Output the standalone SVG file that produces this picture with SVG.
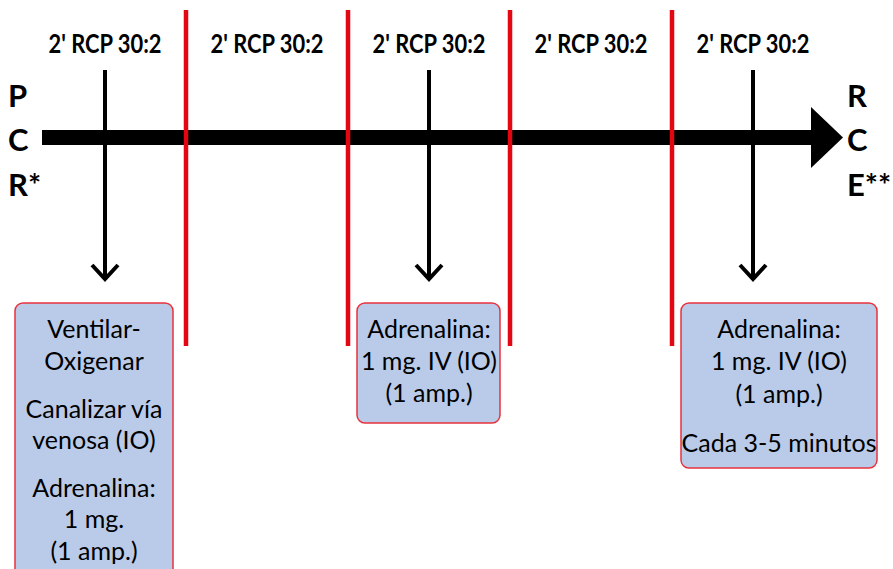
<svg xmlns="http://www.w3.org/2000/svg" width="893" height="569" viewBox="0 0 893 569">
<style>
.hdr{font-family:Lato,"Liberation Sans",sans-serif;font-weight:bold;font-size:27px;fill:#000;text-anchor:middle}
.big{font-family:Lato,"Liberation Sans",sans-serif;font-weight:bold;font-size:31px;fill:#000}
.box{fill:#BACBE9;stroke:#E8323C;stroke-width:1.5}
.bt{font-family:Lato,"Liberation Sans",sans-serif;font-size:25px;fill:#000;text-anchor:middle}
.red{stroke:#E30613;stroke-width:4.5}
.thin{stroke:#000;stroke-width:4;fill:none}
</style>
<rect width="893" height="569" fill="#fff"/>
<g id="timeline">
<rect x="42" y="130" width="772" height="15" fill="#000"/>
<polygon points="811,107 843,137.5 811,168" fill="#000"/>
</g>
<g id="connectors">
<line class="thin" x1="105" y1="70" x2="105" y2="279"/>
<polyline class="thin" points="92,265 105,279 118,265"/>
<line class="thin" x1="429" y1="70" x2="429" y2="279"/>
<polyline class="thin" points="416,265 429,279 442,265"/>
<line class="thin" x1="753" y1="70" x2="753" y2="279"/>
<polyline class="thin" points="740,265 753,279 766,265"/>
</g>
<g id="dividers">
<line class="red" x1="186" y1="10" x2="186" y2="346"/>
<line class="red" x1="348" y1="10" x2="348" y2="346"/>
<line class="red" x1="510" y1="10" x2="510" y2="346"/>
<line class="red" x1="672" y1="10" x2="672" y2="346"/>
</g>
<g id="headers">
<text class="hdr" x="105" y="53" textLength="113" lengthAdjust="spacingAndGlyphs">2' RCP 30:2</text>
<text class="hdr" x="267" y="53" textLength="113" lengthAdjust="spacingAndGlyphs">2' RCP 30:2</text>
<text class="hdr" x="429" y="53" textLength="113" lengthAdjust="spacingAndGlyphs">2' RCP 30:2</text>
<text class="hdr" x="591" y="53" textLength="113" lengthAdjust="spacingAndGlyphs">2' RCP 30:2</text>
<text class="hdr" x="753" y="53" textLength="113" lengthAdjust="spacingAndGlyphs">2' RCP 30:2</text>
</g>
<g id="pcr">
<text class="big" x="8" y="107">P</text>
<text class="big" x="8" y="151">C</text>
<text class="big" x="8" y="196">R*</text>
</g>
<g id="rce">
<text class="big" x="847" y="107">R</text>
<text class="big" x="847" y="151">C</text>
<text class="big" x="847" y="196">E**</text>
</g>
<g id="box1">
<rect class="box" x="15" y="303" width="158" height="290" rx="8"/>
<text class="bt" x="94" y="338">Ventilar-</text>
<text class="bt" x="94" y="370">Oxigenar</text>
<text class="bt" x="94" y="418">Canalizar vía</text>
<text class="bt" x="94" y="449">venosa (IO)</text>
<text class="bt" x="94" y="497">Adrenalina:</text>
<text class="bt" x="94" y="528">1 mg.</text>
<text class="bt" x="94" y="560">(1 amp.)</text>
</g>
<g id="box2">
<rect class="box" x="357" y="303" width="143" height="120" rx="8"/>
<text class="bt" x="429" y="338">Adrenalina:</text>
<text class="bt" x="429" y="370">1 mg. IV (IO)</text>
<text class="bt" x="429" y="402">(1 amp.)</text>
</g>
<g id="box3">
<rect class="box" x="681" y="303" width="196" height="165" rx="8"/>
<text class="bt" x="779" y="338">Adrenalina:</text>
<text class="bt" x="779" y="370">1 mg. IV (IO)</text>
<text class="bt" x="779" y="403">(1 amp.)</text>
<text class="bt" x="779" y="452">Cada 3-5 minutos</text>
</g>
</svg>
